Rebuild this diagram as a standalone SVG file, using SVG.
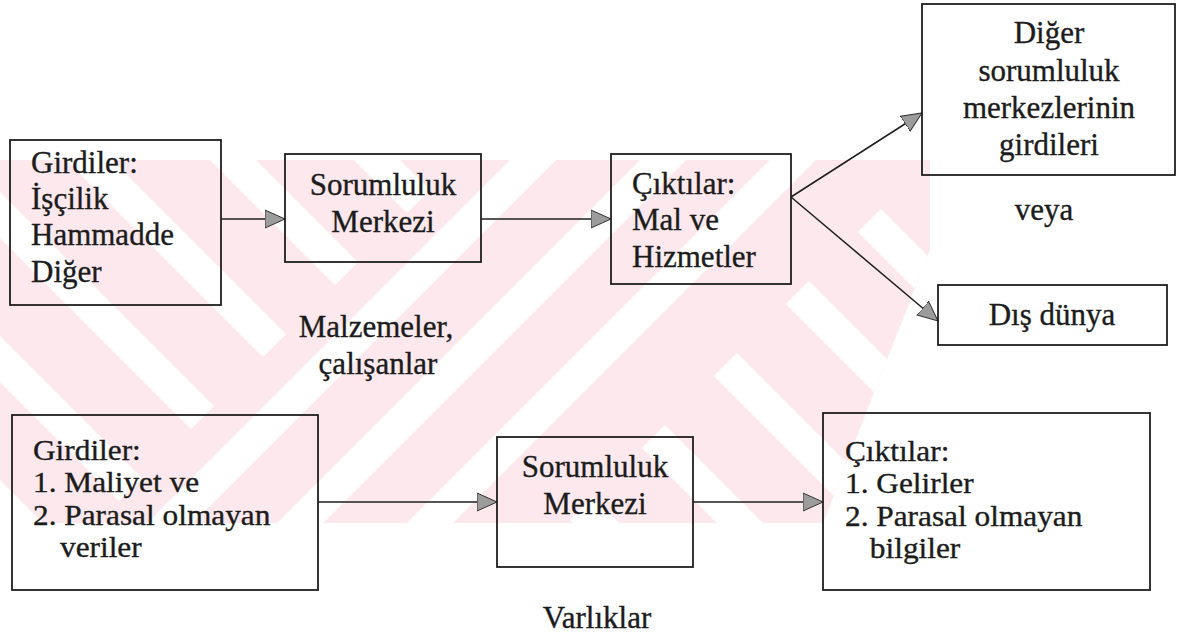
<svg xmlns="http://www.w3.org/2000/svg" width="1181" height="638" viewBox="0 0 1181 638">
  <style>
    .box { fill: none; stroke: #1e1e1e; stroke-width: 1.8; }
    .link { fill: none; stroke: #1e1e1e; stroke-width: 1.5; marker-end: url(#arrow); }
    .t { font-family: 'Liberation Serif', 'Times New Roman', serif; font-size: 31px; fill: #1c1c1c; stroke: #1c1c1c; stroke-width: 0.35; }
    .s { font-size: 29px; }
    .c { text-anchor: middle; }
    .wm { fill: #fde9ed; }
    .gap { fill: #ffffff; }
  </style>
  <defs>
    <marker id="arrow" markerUnits="userSpaceOnUse" markerWidth="22" markerHeight="22" refX="20" refY="10" orient="auto">
      <path d="M0,1 L20,10 L0,19 Z" fill="#9c9c9c" stroke="#333" stroke-width="1"/>
    </marker>
    <clipPath id="wmArea"><polygon points="0,160 930,160 930,250 823,523 0,523"/></clipPath>
    <clipPath id="zoneA"><polygon points="-10,-10 630,-10 -10,630"/></clipPath>
    <clipPath id="zoneB"><polygon points="630,-10 1100,-10 -10,1100 -10,630"/></clipPath>
    <clipPath id="zoneC"><polygon points="1100,-10 2000,-10 2000,2000 -10,2000 -10,1100"/></clipPath>
  </defs>

  <!-- faint striped emblem behind the chart -->
  <g id="emblem" clip-path="url(#wmArea)">
    <rect class="wm" x="0" y="150" width="940" height="380"/>
    <g clip-path="url(#zoneA)">
      <polygon class="gap" points="94,-100 140,-100 940,700 894,700"/>
      <polygon class="gap" points="-50,-100 -4,-100 796,700 750,700"/>
      <polygon class="gap" points="-194,-100 -148,-100 652,700 606,700"/>
      <polygon class="gap" points="-338,-100 -292,-100 508,700 462,700"/>
      <polygon class="gap" points="-482,-100 -436,-100 364,700 318,700"/>
      <polygon class="gap" points="-626,-100 -580,-100 220,700 174,700"/>
    </g>
    <g clip-path="url(#zoneB)">
      <polygon class="gap" points="770,-100 816,-100 16,700 -30,700"/>
      <polygon class="gap" points="900,-100 946,-100 146,700 100,700"/>
      <polygon class="gap" points="1030,-100 1076,-100 276,700 230,700"/>
    </g>
    <g clip-path="url(#zoneC)">
      <polygon class="gap" points="526,-100 572,-100 1372,700 1326,700"/>
      <polygon class="gap" points="382,-100 428,-100 1228,700 1182,700"/>
      <polygon class="gap" points="238,-100 284,-100 1084,700 1038,700"/>
      <polygon class="gap" points="94,-100 140,-100 940,700 894,700"/>
      <polygon class="gap" points="-50,-100 -4,-100 796,700 750,700"/>
    </g>
  </g>

  <!-- connectors -->
  <g id="connectors">
    <line class="link" x1="221" y1="219" x2="285" y2="219"/>
    <line class="link" x1="481" y1="219" x2="611" y2="219"/>
    <line class="link" x1="791" y1="197" x2="922" y2="113"/>
    <line class="link" x1="791" y1="197" x2="938" y2="321"/>
    <line class="link" x1="318" y1="502" x2="497" y2="502"/>
    <line class="link" x1="693" y1="502" x2="823" y2="502"/>
  </g>

  <!-- upper chain -->
  <g id="inputs-top">
    <rect class="box" x="10" y="140" width="211" height="165"/>
    <text class="t" x="31" y="173">Girdiler:</text>
    <text class="t" x="31" y="209">İşçilik</text>
    <text class="t" x="31" y="245">Hammadde</text>
    <text class="t" x="31" y="282">Diğer</text>
  </g>
  <g id="center-top">
    <rect class="box" x="285" y="154" width="196" height="108"/>
    <text class="t c" x="383" y="195">Sorumluluk</text>
    <text class="t c" x="383" y="232">Merkezi</text>
  </g>
  <g id="outputs-top">
    <rect class="box" x="611" y="154" width="180" height="130"/>
    <text class="t" x="632" y="194">Çıktılar:</text>
    <text class="t" x="632" y="230">Mal ve</text>
    <text class="t" x="632" y="267">Hizmetler</text>
  </g>
  <g id="other-centers">
    <rect class="box" x="922" y="4" width="253" height="171"/>
    <text class="t c" x="1049" y="43">Diğer</text>
    <text class="t c" x="1049" y="81">sorumluluk</text>
    <text class="t c" x="1049" y="118">merkezlerinin</text>
    <text class="t c" x="1049" y="155">girdileri</text>
  </g>
  <g id="or-label">
    <text class="t c" x="1044" y="220">veya</text>
  </g>
  <g id="outside-world">
    <rect class="box" x="938" y="285" width="229" height="60"/>
    <text class="t c" x="1052" y="325">Dış dünya</text>
  </g>
  <g id="resources-label">
    <text class="t c" x="376" y="337">Malzemeler,</text>
    <text class="t c" x="378" y="374">çalışanlar</text>
  </g>

  <!-- lower chain -->
  <g id="inputs-bottom">
    <rect class="box" x="12" y="415" width="306" height="175"/>
    <g transform="translate(33,0) scale(1.08,1) translate(-33,0)">
      <text class="t s" x="33" y="460">Girdiler:</text>
      <text class="t s" x="33" y="492.5">1. Maliyet ve</text>
      <text class="t s" x="33" y="525">2. Parasal olmayan</text>
      <text class="t s" x="58" y="557.5">veriler</text>
    </g>
  </g>
  <g id="center-bottom">
    <rect class="box" x="497" y="437" width="196" height="130"/>
    <text class="t c" x="595" y="477">Sorumluluk</text>
    <text class="t c" x="595" y="514">Merkezi</text>
  </g>
  <g id="outputs-bottom">
    <rect class="box" x="823" y="413" width="327" height="177"/>
    <g transform="translate(845,0) scale(1.08,1) translate(-845,0)">
      <text class="t s" x="845" y="461">Çıktılar:</text>
      <text class="t s" x="845" y="493.5">1. Gelirler</text>
      <text class="t s" x="845" y="526">2. Parasal olmayan</text>
      <text class="t s" x="868" y="558.5">bilgiler</text>
    </g>
  </g>
  <g id="assets-label">
    <text class="t c" x="597" y="628">Varlıklar</text>
  </g>
</svg>
